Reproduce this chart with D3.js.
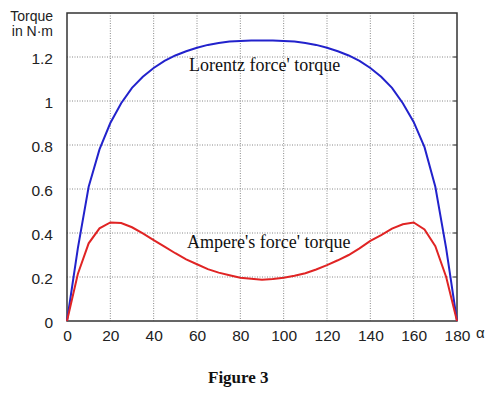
<!DOCTYPE html>
<html>
<head>
<meta charset="utf-8">
<script src="https://d3js.org/d3.v7.min.js"></script>
<style>
  body { margin: 0; background: #fff; }
  .tick text { font-family: "Liberation Sans", Arial, sans-serif; font-size: 15.5px; fill: #222; }
</style>
</head>
<body>
<script>
// angle in degrees, every 5
var alpha = d3.range(0, 181, 5);
// Lorentz force' torque, N·m
var lorentz = [0, 0.33, 0.61, 0.78, 0.90, 0.99, 1.06, 1.11, 1.15, 1.182, 1.207, 1.226, 1.242, 1.255, 1.264, 1.27, 1.273, 1.275, 1.275,
  1.275, 1.273, 1.27, 1.264, 1.255, 1.242, 1.226, 1.207, 1.182, 1.15, 1.11, 1.06, 0.99, 0.905, 0.79, 0.61, 0.33, 0];
// Ampere's force' torque, N·m
var ampere = [0, 0.214, 0.353, 0.421, 0.448, 0.445, 0.426, 0.398, 0.368, 0.338, 0.308, 0.28, 0.258, 0.236, 0.22, 0.208, 0.197, 0.192, 0.187,
  0.191, 0.197, 0.206, 0.217, 0.234, 0.254, 0.276, 0.30, 0.33, 0.364, 0.39, 0.42, 0.44, 0.448, 0.416, 0.34, 0.2, 0];
var xTicks = d3.range(0, 181, 20);
var yTicks = [0, 0.2, 0.4, 0.6, 0.8, 1, 1.2];

var W = 500, H = 396;
var pLeft = 67, pRight = 457, pTop = 13, pBottom = 321;

var svg = d3.select("body").append("svg")
  .attr("width", W).attr("height", H);

var x = d3.scaleLinear().domain([0, 180]).range([pLeft, pRight]);
var y = d3.scaleLinear().domain([0, 1.4]).range([pBottom, pTop]);

// grid
svg.append("g")
  .selectAll("line").data(xTicks.slice(1, -1)).enter().append("line")
  .attr("x1", d => x(d)).attr("x2", d => x(d))
  .attr("y1", pTop).attr("y2", pBottom)
  .attr("stroke", "#888").attr("stroke-width", 1).attr("stroke-dasharray", "1,1.5");
svg.append("g")
  .selectAll("line").data(yTicks.slice(1)).enter().append("line")
  .attr("x1", pLeft).attr("x2", pRight)
  .attr("y1", d => y(d)).attr("y2", d => y(d))
  .attr("stroke", "#888").attr("stroke-width", 1).attr("stroke-dasharray", "1,1.5");

// right side inner ticks
svg.append("g")
  .selectAll("line").data(yTicks.slice(1)).enter().append("line")
  .attr("x1", pRight - 4).attr("x2", pRight)
  .attr("y1", d => y(d)).attr("y2", d => y(d))
  .attr("stroke", "#333");

// axes
var xAxis = svg.append("g").attr("transform", "translate(0," + pBottom + ")")
  .call(d3.axisBottom(x).tickValues(xTicks).tickSize(0).tickPadding(6).tickFormat(d3.format("d")));
xAxis.select(".domain").remove();
xAxis.selectAll("text").attr("dy", "0.9em");

var yAxis = svg.append("g").attr("transform", "translate(" + (pLeft - 14) + ",0)")
  .call(d3.axisLeft(y).tickValues(yTicks).tickSize(0).tickPadding(0).tickFormat(d => d));
yAxis.select(".domain").remove();
yAxis.selectAll("text").attr("dy", "0.4em");

// frame
svg.append("rect")
  .attr("x", pLeft).attr("y", pTop)
  .attr("width", pRight - pLeft).attr("height", pBottom - pTop)
  .attr("fill", "none").attr("stroke", "#333").attr("stroke-width", 1.5);

var line = d3.line().x((d, i) => x(alpha[i])).y(d => y(d));

svg.append("path").datum(lorentz)
  .attr("d", line).attr("fill", "none")
  .attr("stroke", "#2222cc").attr("stroke-width", 2);
svg.append("path").datum(ampere)
  .attr("d", line).attr("fill", "none")
  .attr("stroke", "#e02424").attr("stroke-width", 2);

// labels
var sans = '"Liberation Sans", Arial, sans-serif';
var serif = '"Liberation Serif", "Times New Roman", serif';

svg.append("text").attr("x", 53).attr("y", 21).attr("text-anchor", "end")
  .attr("font-family", sans).attr("font-size", 14).attr("fill", "#222").text("Torque");
svg.append("text").attr("x", 53).attr("y", 36).attr("text-anchor", "end")
  .attr("font-family", sans).attr("font-size", 14).attr("fill", "#222").text("in N\u00b7m");

svg.append("text").attr("x", 476).attr("y", 338)
  .attr("font-family", sans).attr("font-size", 15).attr("fill", "#222").text("\u03b1");

svg.append("text").attr("x", 189).attr("y", 71)
  .attr("font-family", serif).attr("font-size", 18).attr("fill", "#111").text("Lorentz force' torque");
svg.append("text").attr("x", 187).attr("y", 248)
  .attr("font-family", serif).attr("font-size", 18).attr("fill", "#111").text("Ampere's force' torque");

svg.append("text").attr("x", 208).attr("y", 383)
  .attr("font-family", serif).attr("font-size", 17).attr("font-weight", "bold").attr("fill", "#111").text("Figure 3");
</script>
</body>
</html>
